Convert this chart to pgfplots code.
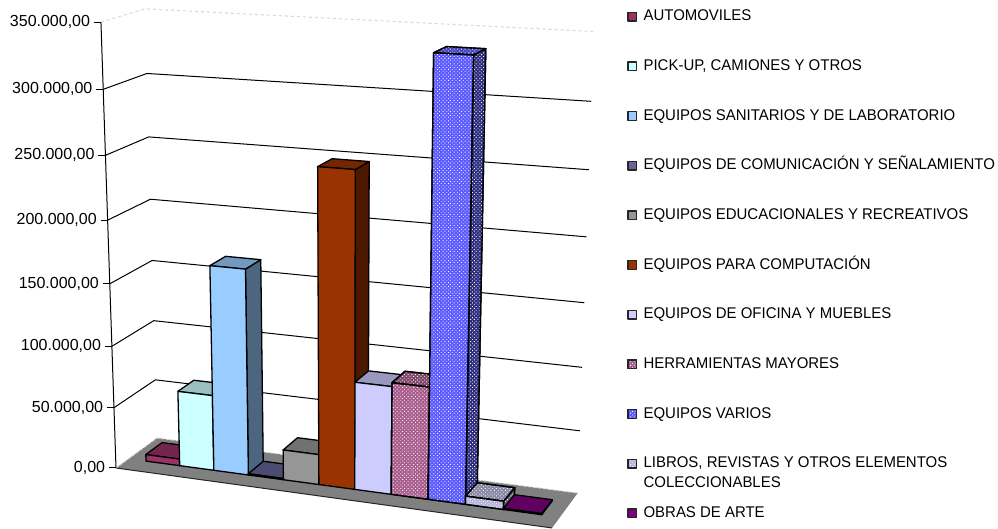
\documentclass[border=0pt]{standalone}
\usepackage{pgfplots}
\pgfplotsset{compat=1.18}
\usepackage{pgfplotstable}
\usepackage{fontspec}
\setmainfont{Liberation Sans}
\newfontfamily\legfont[FakeStretch=0.965]{Liberation Sans}
\usetikzlibrary{patterns.meta}
\definecolor{c1}{HTML}{993366}
\definecolor{c2}{HTML}{CCFFFF}
\definecolor{c3}{HTML}{99CCFF}
\definecolor{c4}{HTML}{666699}
\definecolor{c5}{HTML}{969696}
\definecolor{c6}{HTML}{993300}
\definecolor{c7}{HTML}{CCCCFF}
\definecolor{c8}{HTML}{A85C8C}
\definecolor{c9}{HTML}{5A5AFF}
\definecolor{c10}{HTML}{B4B4DC}
\definecolor{c11}{HTML}{800080}
\pgfplotstableread{
a b h
0 0 0
1 0 0
1 0 1
0 0 1
}\frontface
\pgfplotstableread{
a b h
1 0 0
1 1 0
1 1 1
1 0 1
}\sideface
\pgfplotstableread{
a b h
0 0 1
1 0 1
1 1 1
0 1 1
}\topface
\pgfplotstableread{
X D
0 0
0 1
1 1
}\wallpath
\pgfplotstableread{
o n
-7 0
0 0
}\tickpath
% one bar: #1 position, #2 value in thousands, #3 colour, #4 extra style of the faces
\newcommand\drawbar[4]{%
 \addplot[forget plot,draw=black,line width=1.3pt,fill=#3!50!black,#4,line join=round] table[
   x expr={px((#1+\thisrow{a})*0.0834+0.0434,0.3+0.4*\thisrow{b},#2*\thisrow{h})},
   y expr={py((#1+\thisrow{a})*0.0834+0.0434,0.3+0.4*\thisrow{b},#2*\thisrow{h})}]{\sideface} --cycle;
 \addplot[forget plot,draw=black,line width=1.3pt,fill=#3!75!black,#4,line join=round] table[
   x expr={px((#1+\thisrow{a})*0.0834+0.0434,0.3+0.4*\thisrow{b},#2*\thisrow{h})},
   y expr={py((#1+\thisrow{a})*0.0834+0.0434,0.3+0.4*\thisrow{b},#2*\thisrow{h})}]{\topface} --cycle;
 \addplot[draw=black,line width=1.3pt,fill=#3,#4,line join=round] table[
   x expr={px((#1+\thisrow{a})*0.0834+0.0434,0.3+0.4*\thisrow{b},#2*\thisrow{h})},
   y expr={py((#1+\thisrow{a})*0.0834+0.0434,0.3+0.4*\thisrow{b},#2*\thisrow{h})}]{\frontface} --cycle;
}
\tikzset{dotty/.style={postaction={pattern={Dots[distance=2.6pt,radius=0.62pt,angle=45]},pattern color=white}}}
\begin{document}
\begin{tikzpicture}
\begin{axis}[
  scale only axis,x=1pt,y=1pt,xmin=0,xmax=998,ymin=0,ymax=529,
  hide axis,clip=false,
  declare function={
    pw(\a,\b,\c)=1-0.0761*\a+0.04108*\b-0.0617*\c/350;
    px(\a,\b,\c)=(116+394*\a+47.45*\b-21.29*\c/350)/pw(\a,\b,\c);
    py(\a,\b,\c)=529-(468+19.8*\a-12*\b-447.3*\c/350)/pw(\a,\b,\c);
  },
  legend cell align=left,
  legend image code/.code={\draw[#1,line width=1.2pt,draw=black!85] (0pt,-4.3pt) rectangle (8.6pt,4.3pt);},
  legend style={at={(axis cs:627.3,520.3)},anchor=north west,draw=none,fill=none,inner sep=0pt,outer sep=0pt,
    row sep=33.67pt,
    /tikz/column 1/.style={column sep=6.5pt},
    nodes={inner sep=0pt,text height=12pt,text depth=4pt,font=\legfont\fontsize{15.5}{17}\selectfont}},
]
\path (axis cs:0,0) (axis cs:998,529);
% floor
\addplot[forget plot,draw=none,fill=black!50] table[
  x expr={px(\thisrow{X},\thisrow{D},0)},y expr={py(\thisrow{X},\thisrow{D},0)}]{
X D
0 0
1 0
1 1
0 1
} --cycle;
\addplot[forget plot,black!85,line width=1pt] table[
  x expr={px(\thisrow{X},0,0)},y expr={py(\thisrow{X},0,0)}]{
X n
0 0
1 0
};
% back and side wall lines
\addplot[forget plot,gray!30,line width=0.9pt,densely dashed] table[
  x expr={px(\thisrow{X},\thisrow{D},0)},y expr={py(\thisrow{X},\thisrow{D},0)}]{\wallpath};
\pgfplotsinvokeforeach{50,100,150,200,250,300}{
  \addplot[forget plot,black,line width=1pt] table[
    x expr={px(\thisrow{X},\thisrow{D},#1)},y expr={py(\thisrow{X},\thisrow{D},#1)}]{\wallpath};
}
\addplot[forget plot,gray!30,line width=1.1pt,dashed] table[
  x expr={px(\thisrow{X},\thisrow{D},350)},y expr={py(\thisrow{X},\thisrow{D},350)}]{\wallpath};
% value axis
\addplot[forget plot,black,line width=1pt] table[
  x expr={px(0,0,\thisrow{V})},y expr={py(0,0,\thisrow{V})}]{
V n
0 0
350 0
};
\pgfplotsinvokeforeach{0,50,100,150,200,250,300,350}{
  \addplot[forget plot,black,line width=1pt] table[
    x expr={px(0,0,#1)+\thisrow{o}},y expr={py(0,0,#1)}]{\tickpath};
}
\addplot[forget plot,draw=none,mark=none,point meta=explicit symbolic,nodes near coords,
  every node near coord/.append style={anchor=east,inner sep=0pt,font=\fontsize{16}{18}\selectfont,black}]
  table[x expr={px(0,0,\thisrow{V})-10.7},y expr={py(0,0,\thisrow{V})},meta=lab]{
V lab
0 0,00
50 50.000,00
100 100.000,00
150 150.000,00
200 200.000,00
250 250.000,00
300 300.000,00
350 350.000,00
};
% bars: values in thousands
\drawbar{0}{5.5}{c1}{}
\addlegendentry{AUTOMOVILES}
\drawbar{1}{61.6}{c2}{}
\addlegendentry{PICK-UP, CAMIONES Y OTROS}
\drawbar{2}{165.6}{c3}{}
\addlegendentry{EQUIPOS SANITARIOS Y DE LABORATORIO}
\drawbar{3}{1.0}{c4}{}
\addlegendentry{EQUIPOS DE COMUNICACIÓN Y SEÑALAMIENTO}
\drawbar{4}{24.4}{c5}{}
\addlegendentry{EQUIPOS EDUCACIONALES Y RECREATIVOS}
\drawbar{5}{248.8}{c6}{}
\addlegendentry{EQUIPOS PARA COMPUTACIÓN}
\drawbar{6}{85.9}{c7}{}
\addlegendentry{EQUIPOS DE OFICINA Y MUEBLES}
\drawbar{7}{88.9}{c8}{dotty}
\addlegendentry{HERRAMIENTAS MAYORES}
\drawbar{8}{337.3}{c9}{dotty}
\addlegendentry{EQUIPOS VARIOS}
\drawbar{9}{6.6}{c10}{dotty}
\addlegendentry{\rlap{\raisebox{-20pt}[0pt][0pt]{COLECCIONABLES}}LIBROS, REVISTAS Y OTROS ELEMENTOS}
\drawbar{10}{0.9}{c11}{}
\addlegendentry{OBRAS DE ARTE}
\end{axis}
\end{tikzpicture}
\end{document}
